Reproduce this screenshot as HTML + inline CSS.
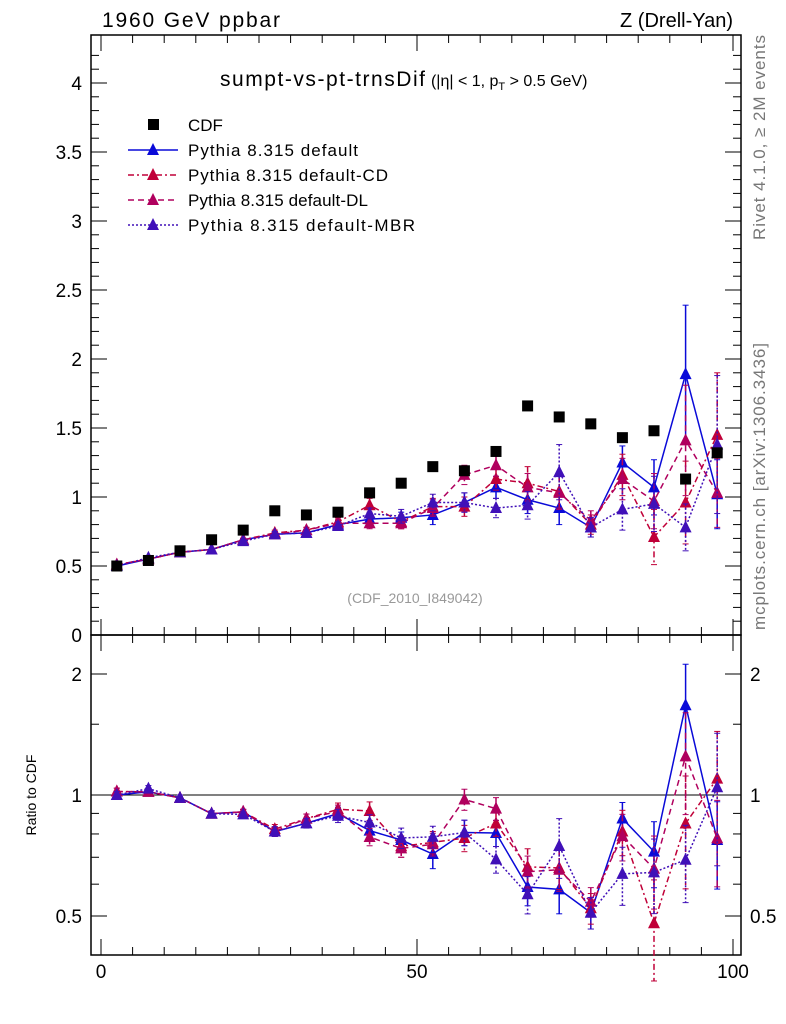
<!DOCTYPE html>
<html><head><meta charset="utf-8"><style>
body{margin:0;background:#fff;}
svg{display:block;font-family:"Liberation Sans",sans-serif;}
</style></head><body>
<svg id="c" width="786" height="1024" viewBox="0 0 786 1024">
<text x="102" y="27" font-size="21" textLength="178">1960 GeV ppbar</text>
<text x="733" y="27" font-size="20" text-anchor="end">Z (Drell-Yan)</text>
<text x="220" y="86" font-size="21"><tspan textLength="205">sumpt-vs-pt-trnsDif</tspan><tspan font-size="16"> (|η| &lt; 1, p</tspan><tspan font-size="11" dy="4">T</tspan><tspan font-size="16" dy="-4"> &gt; 0.5 GeV)</tspan></text>
<text x="415" y="603" font-size="14" fill="#999" text-anchor="middle">(CDF_2010_I849042)</text>
<text transform="translate(765,240) rotate(-90)" font-size="17" textLength="205" fill="#777">Rivet 4.1.0, ≥ 2M events</text>
<text transform="translate(765,630) rotate(-90)" font-size="17" textLength="287" fill="#777">mcplots.cern.ch [arXiv:1306.3436]</text>
<text transform="translate(36,795) rotate(-90)" font-size="14" text-anchor="middle">Ratio to CDF</text>
<g id="g"></g>
</svg>
<script>
const xs=[2.5,7.5,12.5,17.5,22.5,27.5,32.5,37.5,42.5,47.5,52.5,57.5,62.5,67.5,72.5,77.5,82.5,87.5,92.5,97.5];
const cdf=[0.50,0.54,0.61,0.69,0.76,0.90,0.87,0.89,1.03,1.10,1.22,1.19,1.33,1.66,1.58,1.53,1.43,1.48,1.13,1.32];
const def=[0.50,0.55,0.60,0.62,0.69,0.73,0.74,0.80,0.84,0.85,0.87,0.96,1.07,0.98,0.92,0.78,1.25,1.07,1.89,1.02];
const defErr=[0.01,0.01,0.01,0.01,0.01,0.02,0.02,0.03,0.04,0.04,0.07,0.07,0.08,0.1,0.12,0.07,0.12,0.2,0.5,0.25];
const cd=[0.51,0.55,0.60,0.62,0.69,0.74,0.76,0.82,0.94,0.82,0.93,0.93,1.13,1.10,1.04,0.80,1.16,0.71,0.96,1.45];
const cdErr=[0.01,0.01,0.01,0.01,0.01,0.02,0.02,0.03,0.05,0.05,0.06,0.07,0.08,0.12,0.12,0.07,0.15,0.2,0.3,0.45];
const dl=[0.51,0.55,0.60,0.62,0.69,0.73,0.76,0.81,0.81,0.81,0.92,1.16,1.23,1.07,1.03,0.83,1.13,0.97,1.41,1.03];
const dlErr=[0.01,0.01,0.01,0.01,0.01,0.02,0.02,0.03,0.04,0.04,0.06,0.07,0.08,0.1,0.12,0.07,0.15,0.2,0.4,0.25];
const mbr=[0.50,0.56,0.60,0.62,0.68,0.73,0.74,0.79,0.88,0.86,0.96,0.96,0.92,0.94,1.18,0.78,0.91,0.95,0.78,1.38];
const mbrErr=[0.01,0.01,0.01,0.01,0.01,0.02,0.02,0.03,0.04,0.05,0.06,0.07,0.07,0.1,0.2,0.07,0.15,0.2,0.17,0.5];
const yTicks=["0","0.5","1","1.5","2","2.5","3","3.5","4"];
const rTicks=["0.5","1","2"];
const xTicks=["0","50","100"];
const series=[
 {n:"default",v:def,e:defErr,c:"#0a0ad8",d:"",lab:"Pythia 8.315 default"},
 {n:"default-cd",v:cd,e:cdErr,c:"#c00038",d:"6,3,2,3",lab:"Pythia 8.315 default-CD"},
 {n:"default-dl",v:dl,e:dlErr,c:"#b0005e",d:"6,4",lab:"Pythia 8.315 default-DL"},
 {n:"default-mbr",v:mbr,e:mbrErr,c:"#4010b8",d:"2,2",lab:"Pythia 8.315 default-MBR"}];
const L=91,R=741,T=35,M=635,B=955;
const X=v=>101+v*6.32;
const Y=v=>M-v*138;
const YR=v=>795-121*Math.log2(v);
const g=document.getElementById('g');
const NS="http://www.w3.org/2000/svg";
function el(t,a,p){const e=document.createElementNS(NS,t);for(const k in a)e.setAttribute(k,a[k]);(p||g).appendChild(e);return e;}
let f1=el('rect',{x:L,y:T,width:R-L,height:M-T,fill:'none',stroke:'#000','stroke-width':1.5});


let f2=el('rect',{x:L,y:M,width:R-L,height:B-M,fill:'none',stroke:'#000','stroke-width':1.5});


for(let v=0;v<=4.3;v+=0.1){const y=Y(v);if(y<T)break;const maj=Math.abs(v*2-Math.round(v*2))<1e-6;const l=maj?16:8;
 el('line',{x1:L,y1:y,x2:L+l,y2:y,stroke:'#000'});el('line',{x1:R,y1:y,x2:R-l,y2:y,stroke:'#000'});}
yTicks.forEach(s=>{const t=el('text',{x:82,y:Y(+s)+7,'font-size':19,'text-anchor':'end'});t.textContent=s;

});
[0.5,0.6,0.7,0.8,0.9,1,1.5,2].forEach(v=>{const y=YR(v);const maj=rTicks.includes(String(v));const l=maj?16:8;
 el('line',{x1:L,y1:y,x2:L+l,y2:y,stroke:'#000'});el('line',{x1:R,y1:y,x2:R-l,y2:y,stroke:'#000'});});
rTicks.forEach(s=>{const y=YR(+s)+7;
 const t=el('text',{x:82,y:y,'font-size':19,'text-anchor':'end'});t.textContent=s;
 
 
 const t2=el('text',{x:750,y:y,'font-size':19});t2.textContent=s;
 
 });
for(let v=0;v<=100;v+=5){const x=X(v);const maj=v%50==0;const l=maj?16:8;
 el('line',{x1:x,y1:T,x2:x,y2:T+l,stroke:'#000'});el('line',{x1:x,y1:M,x2:x,y2:M-l,stroke:'#000'});
 el('line',{x1:x,y1:M,x2:x,y2:M+l,stroke:'#000'});el('line',{x1:x,y1:B,x2:x,y2:B-l,stroke:'#000'});}
xTicks.forEach(s=>{const t=el('text',{x:X(+s),y:978,'font-size':19,'text-anchor':'middle'});t.textContent=s;

});
el('line',{x1:L,y1:YR(1),x2:R,y2:YR(1),stroke:'#000','stroke-width':1});
function tri(x,y,c,p){return el('polygon',{points:`${x},${y-7} ${x-6},${y+5} ${x+6},${y+5}`,fill:c},p);}
series.forEach(s=>{
 const gm=el('g',{});
 el('polyline',{points:xs.map((x,i)=>X(x)+','+Y(s.v[i])).join(' '),fill:'none',stroke:s.c,'stroke-width':1.5,'stroke-dasharray':s.d},gm);
 el('polyline',{points:xs.map((x,i)=>X(x)+','+YR(s.v[i]/cdf[i])).join(' '),fill:'none',stroke:s.c,'stroke-width':1.5,'stroke-dasharray':s.d},gm);
 xs.forEach((x,i)=>{const px=X(x);
  const y1=Y(s.v[i]+s.e[i]),y2=Y(s.v[i]-s.e[i]);
  el('line',{x1:px,y1:y1,x2:px,y2:y2,stroke:s.c,'stroke-width':1.5,'stroke-dasharray':s.d},gm);
  el('line',{x1:px-3,y1:y1,x2:px+3,y2:y1,stroke:s.c},gm);el('line',{x1:px-3,y1:y2,x2:px+3,y2:y2,stroke:s.c},gm);
  const r1=YR((s.v[i]+s.e[i])/cdf[i]),r2=YR(Math.max(0.05,s.v[i]-s.e[i])/cdf[i]);
  el('line',{x1:px,y1:r1,x2:px,y2:r2,stroke:s.c,'stroke-width':1.5,'stroke-dasharray':s.d},gm);
  el('line',{x1:px-3,y1:r1,x2:px+3,y2:r1,stroke:s.c},gm);el('line',{x1:px-3,y1:r2,x2:px+3,y2:r2,stroke:s.c},gm);
  const m=tri(px,Y(s.v[i]),s.c,gm);
  tri(px,YR(s.v[i]/cdf[i]),s.c,gm);});
});
const gc=el('g',{});
xs.forEach((x,i)=>{const r=el('rect',{x:X(x)-5.5,y:Y(cdf[i])-5.5,width:11,height:11,fill:'#000'},gc);
});
const lg=el('g',{});
el('rect',{x:148,y:119,width:11,height:11,fill:'#000'},lg);
let t0=el('text',{x:188,y:131,'font-size':17},lg);t0.textContent="CDF";


const labW=[170,200,180,227];
series.forEach((s,i)=>{const y=150+i*25;
 el('line',{x1:128,y1:y,x2:178,y2:y,stroke:s.c,'stroke-width':1.5,'stroke-dasharray':s.d},lg);
 tri(153,y,s.c,lg);
 const t=el('text',{x:188,y:y+6,'font-size':17,textLength:labW[i]},lg);t.textContent=s.lab;
 
 });
</script>
</body></html>
